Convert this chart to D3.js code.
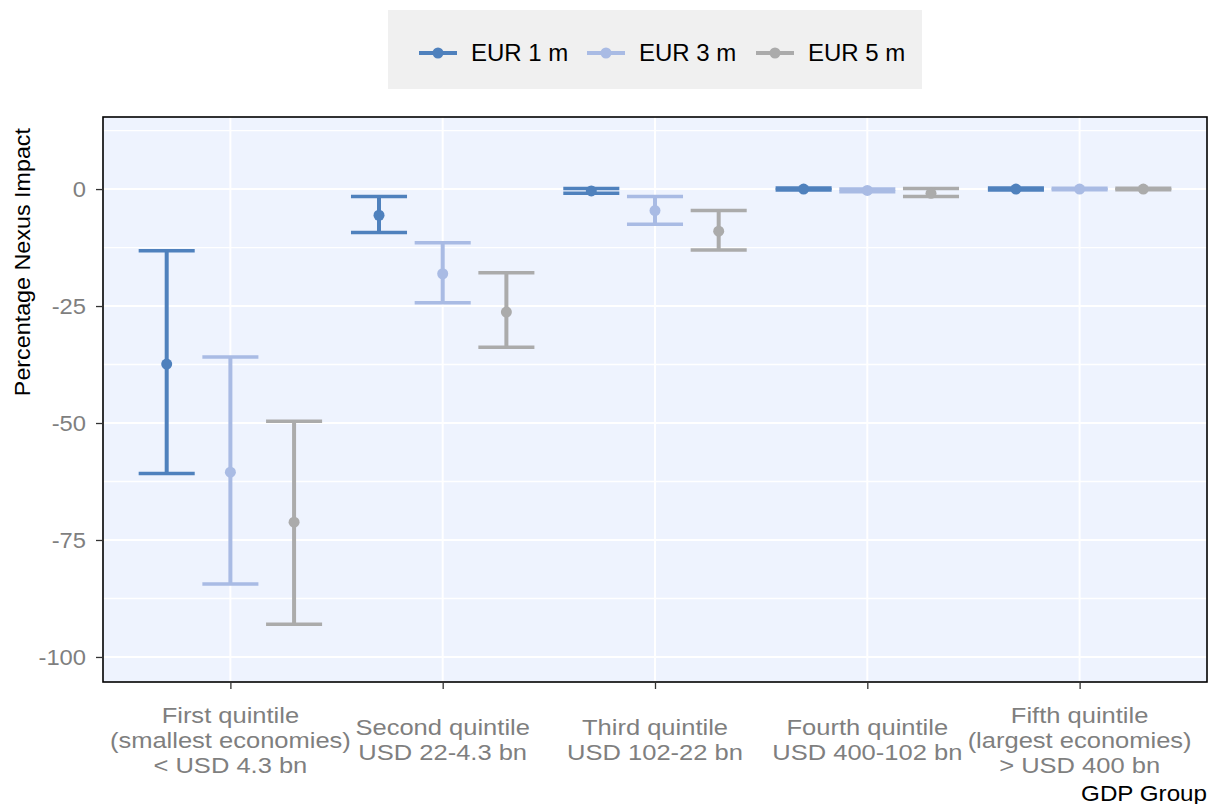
<!DOCTYPE html>
<html>
<head>
<meta charset="utf-8">
<script src="https://cdn.jsdelivr.net/npm/d3@7"></script>
<style>
  html, body { margin: 0; padding: 0; background: #ffffff; }
  svg { display: block; font-family: "Liberation Sans", Arial, sans-serif; }
</style>
</head>
<body>
<svg id="chart" width="1209" height="804"></svg>
<script>
// ---- data ----
const categories = ["First quintile", "Second quintile", "Third quintile", "Fourth quintile", "Fifth quintile"];
const categoryLabels = [
  ["First quintile", "(smallest economies)", "< USD 4.3 bn"],
  ["Second quintile", "USD 22-4.3 bn"],
  ["Third quintile", "USD 102-22 bn"],
  ["Fourth quintile", "USD 400-102 bn"],
  ["Fifth quintile", "(largest economies)", "> USD 400 bn"]
];
const series = ["EUR 1 m", "EUR 3 m", "EUR 5 m"];
const seriesColors = ["#4f81bd", "#a9bbe4", "#ababab"];
const eur1Mean  = [-37.4, -5.6, -0.4, 0.0, 0.0];
const eur1Lower = [-60.8, -9.3, -0.9, -0.2, -0.2];
const eur1Upper = [-13.2, -1.6, 0.1, 0.2, 0.2];
const eur3Mean  = [-60.5, -18.1, -4.6, -0.3, 0.0];
const eur3Lower = [-84.4, -24.3, -7.5, -0.6, -0.15];
const eur3Upper = [-35.9, -11.5, -1.6, 0.0, 0.15];
const eur5Mean  = [-71.2, -26.3, -9.0, -0.9, 0.0];
const eur5Lower = [-93.0, -33.8, -13.0, -1.6, -0.15];
const eur5Upper = [-49.6, -17.9, -4.6, 0.1, 0.15];
const yTicks = [0, -25, -50, -75, -100];
const yMinorTicks = [12.5, -12.5, -37.5, -62.5, -87.5];
const yTitle = "Percentage Nexus Impact";
const xTitle = "GDP Group";

const means = [eur1Mean, eur3Mean, eur5Mean];
const lowers = [eur1Lower, eur3Lower, eur5Lower];
const uppers = [eur1Upper, eur3Upper, eur5Upper];
const rows = [];
series.forEach((s, si) => categories.forEach((c, ci) => {
  rows.push({ series: s, cat: c, mean: means[si][ci], lo: lowers[si][ci], hi: uppers[si][ci], color: seriesColors[si] });
}));

// ---- layout ----
const svg = d3.select("#chart");
const panel = { left: 103, top: 117, right: 1207, bottom: 682 };
const pw = panel.right - panel.left, ph = panel.bottom - panel.top;

const y = d3.scaleLinear().domain([-105.35, 15.4]).range([panel.bottom, panel.top]);
const xStep = pw / 5.2;
const x = d3.scalePoint().domain(categories)
  .range([panel.left + 0.6 * xStep, panel.right - 0.6 * xStep]);
const xSub = d3.scaleBand().domain(series).range([-0.45 * xStep, 0.45 * xStep]).padding(0);
const capW = xSub.bandwidth() * 0.88;
const color = d3.scaleOrdinal().domain(series).range(seriesColors);

// panel background
svg.append("rect").attr("x", panel.left).attr("y", panel.top).attr("width", pw).attr("height", ph)
  .attr("fill", "#eef3fe");

// grid
const grid = svg.append("g");
grid.selectAll(".ymin").data(yMinorTicks).join("line")
  .attr("x1", panel.left).attr("x2", panel.right)
  .attr("y1", d => y(d)).attr("y2", d => y(d))
  .attr("stroke", "#ffffff").attr("stroke-width", 1.3);
grid.selectAll(".ymaj").data(yTicks).join("line")
  .attr("x1", panel.left).attr("x2", panel.right)
  .attr("y1", d => y(d)).attr("y2", d => y(d))
  .attr("stroke", "#ffffff").attr("stroke-width", 2);
grid.selectAll(".xmaj").data(categories).join("line")
  .attr("x1", d => x(d)).attr("x2", d => x(d))
  .attr("y1", panel.top).attr("y2", panel.bottom)
  .attr("stroke", "#ffffff").attr("stroke-width", 2);

// error bars
const bars = svg.append("g").selectAll("g").data(rows).join("g")
  .attr("transform", d => `translate(${x(d.cat) + xSub(d.series) + xSub.bandwidth() / 2},0)`);
bars.append("line").attr("x1", 0).attr("x2", 0)
  .attr("y1", d => y(d.hi)).attr("y2", d => y(d.lo))
  .attr("stroke", d => d.color).attr("stroke-width", 4);
bars.append("line").attr("x1", -capW / 2).attr("x2", capW / 2)
  .attr("y1", d => y(d.hi)).attr("y2", d => y(d.hi))
  .attr("stroke", d => d.color).attr("stroke-width", 3.5);
bars.append("line").attr("x1", -capW / 2).attr("x2", capW / 2)
  .attr("y1", d => y(d.lo)).attr("y2", d => y(d.lo))
  .attr("stroke", d => d.color).attr("stroke-width", 3.5);
bars.append("circle").attr("cx", 0).attr("cy", d => y(d.mean)).attr("r", 5.5)
  .attr("fill", d => d.color);

// panel border
svg.append("rect").attr("x", panel.left).attr("y", panel.top).attr("width", pw).attr("height", ph)
  .attr("fill", "none").attr("stroke", "#000000").attr("stroke-width", 1.6);

// y axis
const yAxis = svg.append("g").attr("transform", `translate(${panel.left},0)`)
  .call(d3.axisLeft(y).tickValues(yTicks).tickSize(7).tickFormat(""));
yAxis.select(".domain").remove();
yAxis.selectAll(".tick line").attr("stroke", "#333333").attr("stroke-width", 1.3);
// y tick labels (slightly wide glyphs as in the reference)
svg.append("g").selectAll("g").data(yTicks).join("g")
  .attr("transform", d => `translate(${panel.left - 17},${y(d)}) scale(1.08,1)`)
  .append("text").attr("text-anchor", "end").attr("dy", "0.35em")
  .attr("fill", "#7f7f7f").attr("font-size", 22).text(d => String(d));

// x axis
const xAxis = svg.append("g").attr("transform", `translate(0,${panel.bottom})`)
  .call(d3.axisBottom(x).tickSize(7).tickFormat(""));
xAxis.select(".domain").remove();
xAxis.selectAll(".tick line").attr("stroke", "#333333").attr("stroke-width", 1.3);

const lineH = 25;
const labelCenterY = 740;
svg.append("g").selectAll("g").data(categories).join("g")
  .attr("transform", d => `translate(${x(d)},0) scale(1.16,1)`)
  .append("text")
  .attr("text-anchor", "middle")
  .attr("fill", "#7f7f7f").attr("font-size", 22)
  .each(function (d, i) {
    const lines = categoryLabels[i];
    const t = d3.select(this);
    const y0 = labelCenterY - (lines.length - 1) * lineH / 2;
    lines.forEach((ln, k) => {
      t.append("tspan").attr("x", 0).attr("y", y0 + k * lineH).attr("dy", "0.35em").text(ln);
    });
  });

// axis titles
svg.append("g").attr("transform", `translate(${panel.right},793) scale(1.1,1)`)
  .append("text").attr("dy", "0.35em")
  .attr("text-anchor", "end").attr("font-size", 22).attr("fill", "#000").text(xTitle);
svg.append("g").attr("transform", `translate(22,128) rotate(-90) scale(1.06,1)`)
  .append("text").attr("dy", "0.35em")
  .attr("text-anchor", "end").attr("font-size", 22).attr("fill", "#000").text(yTitle);

// legend
const lg = svg.append("g");
lg.append("rect").attr("x", 388).attr("y", 10).attr("width", 534).attr("height", 79).attr("fill", "#f0f0f0");
const legendX = [419, 587, 756];
const legendItems = lg.selectAll("g").data(series).join("g")
  .attr("transform", (d, i) => `translate(${legendX[i]},53)`);
legendItems.append("line").attr("x1", 0).attr("x2", 38).attr("y1", 0).attr("y2", 0)
  .attr("stroke", d => color(d)).attr("stroke-width", 4);
legendItems.append("circle").attr("cx", 19).attr("cy", 0).attr("r", 5.5).attr("fill", d => color(d));
legendItems.append("text").attr("x", 52).attr("y", 0).attr("dy", "0.35em")
  .attr("font-size", 24).attr("fill", "#000").text(d => d);
</script>
</body>
</html>
